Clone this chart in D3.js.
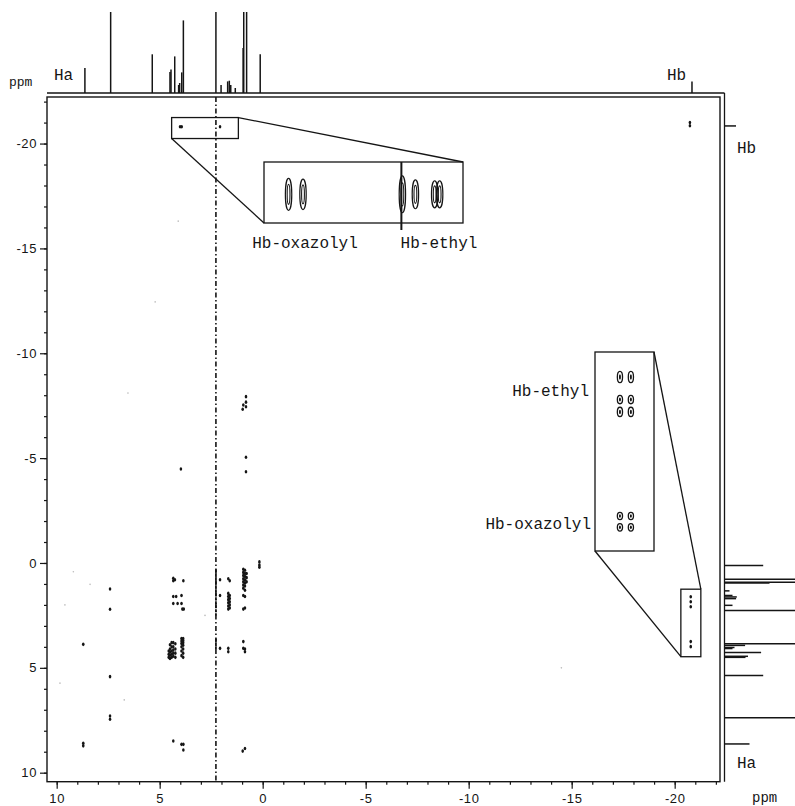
<!DOCTYPE html>
<html><head><meta charset="utf-8">
<script src="https://cdn.jsdelivr.net/npm/d3@7"></script>
<style>body{margin:0;background:#fff}svg{display:block}</style>
</head><body>
<svg id="c" width="795" height="806"></svg>
<script>
// ---------------- data ----------------
const axisTicks = [10, 5, 0, -5, -10, -15, -20];
// 1D proton spectrum (ppm, intensity)
const specPpm = [8.63, 7.38, 5.36, 4.50, 4.45, 4.27, 4.08, 4.03, 3.93, 3.85, 2.27, 2.02, 1.70, 1.62, 1.55, 1.33, 0.95, 0.92, 0.78, 0.12, -20.84];
const specInt = [25, 110, 38.7, 21, 23.5, 36.6, 8, 10, 20.6, 72.6, 120, 8, 11.6, 12.3, 8, 5, 45, 110, 110, 38.7, 11.5];
// t1-noise streak
const streakPpm = 2.27;
const streakDense = [[0.3, 2.5], [3.6, 4.1]];
// 2D cross peaks [F2, F1]
const crossPeaks = [
  [8.71, 3.88], [8.71, 8.6], [8.71, 8.72],
  [7.41, 1.24], [7.41, 2.21], [7.41, 5.42], [7.41, 7.3], [7.41, 7.45],
  [4.34, 0.73], [4.34, 0.85], [4.26, 0.8], [3.85, 0.85],
  [4.34, 1.6], [4.2, 1.6], [3.94, 1.55], [4.34, 1.93], [4.13, 1.93], [3.94, 1.93],
  [3.9, 2.2], [3.83, 2.2],
  [4.56, 4.2], [4.56, 4.35], [4.56, 4.5],
  [4.5, 3.9], [4.5, 4.1], [4.5, 4.25], [4.5, 4.4], [4.5, 4.55],
  [4.42, 3.8], [4.42, 4.0], [4.42, 4.2], [4.42, 4.35], [4.42, 4.5],
  [4.34, 3.8], [4.34, 4.0], [4.34, 4.15], [4.34, 4.3], [4.34, 4.45],
  [4.24, 3.85], [4.24, 4.1], [4.24, 4.3], [4.24, 4.5],
  [3.94, 3.6], [3.94, 3.72], [3.94, 3.84], [3.94, 4.0], [3.94, 4.2], [3.94, 4.42],
  [3.86, 3.6], [3.86, 3.7], [3.86, 3.8], [3.86, 3.92], [3.86, 4.1], [3.86, 4.3], [3.86, 4.5],
  [2.07, 0.8], [2.07, 1.55], [2.07, 4.07],
  [1.67, 0.75], [1.6, 0.85], [1.67, 1.45], [1.67, 1.6], [1.67, 1.75], [1.67, 1.9], [1.67, 2.05], [1.67, 2.2],
  [1.6, 1.55], [1.6, 1.7], [1.6, 1.85], [1.6, 2.0], [1.6, 2.15],
  [1.67, 4.07], [1.67, 4.23],
  [0.94, 0.3], [0.94, 0.45], [0.94, 0.6], [0.94, 0.75], [0.94, 0.9], [0.94, 1.05], [0.94, 1.2],
  [0.86, 0.35], [0.86, 0.5], [0.86, 0.65], [0.86, 0.8], [0.86, 0.95], [0.86, 1.1], [0.86, 1.3],
  [0.78, 0.5], [0.78, 0.7], [0.78, 0.9],
  [0.94, 1.55], [0.86, 1.6], [0.94, 2.2], [0.86, 2.15],
  [0.94, 3.75], [0.94, 4.07], [0.86, 4.1], [0.86, 4.23],
  [4.34, 8.49], [3.94, 8.65], [3.85, 8.65], [3.85, 8.92], [0.97, 8.97], [0.86, 8.85],
  [0.16, -0.05], [0.16, 0.1], [0.16, 0.2],
  [0.81, -7.93], [0.94, -7.53], [0.81, -7.67], [0.81, -7.45], [0.97, -7.33],
  [0.81, -5.04], [0.81, -4.35], [3.97, -4.48],
  [-20.74, -21.0], [-20.74, -20.85],
  [4.01, -20.8], [3.93, -20.8], [2.07, -20.8],
  [-20.78, 1.61], [-20.78, 1.85], [-20.78, 2.09], [-20.78, 3.75], [-20.78, 3.99]
];
const noisePeaks = [[9.19, 0.42], [8.38, 1.02], [9.6, 2.0], [9.84, 5.73], [6.72, 6.53], [2.8, 2.5], [5.22, -12.45], [6.54, -8.1], [4.1, -16.3], [-14.5, 5.0]];
// zoom windows (ppm)
const topZoomF2 = [4.42, 1.18], topZoomF1 = [-21.24, -20.24];
const rightZoomF2 = [-20.3, -21.27], rightZoomF1 = [1.25, 4.47];
// Hb row peaks (top inset) and Hb column peaks (right inset)
const hbRowF2 = [4.02, 3.785, 2.167, 1.955, 1.641, 1.56];
const hbRowAmp = [1.0, 0.95, 1.15, 0.9, 0.85, 0.85];
const hbRowF1 = -20.71;
const hbColF1 = [1.654, 2.019, 2.219, 3.903, 4.087];
const hbColAmp = [1.35, 1.0, 1.1, 0.85, 0.9];
const hbColF2 = [-20.71, -20.89];
const insetLabels = ["Hb-oxazolyl", "Hb-ethyl"];

// ---------------- layout ----------------
const svg = d3.select('#c');
const ink = '#151515';
const mono = "'Liberation Mono','DejaVu Sans Mono',monospace";
const sans = "'Liberation Sans',Arial,sans-serif";
const x = d3.scaleLinear().domain([10.47, -22.2]).range([47, 720]);
const y = d3.scaleLinear().domain([-22.22, 10.43]).range([97, 781.7]);
const topBase = 93, topClip = 12, rightBase = 724.5;
const hScale = d3.scaleLinear().domain([0, 100]).range([0, 100]);

// frame
svg.append('rect').attr('x', 47).attr('y', 97).attr('width', 673).attr('height', 684.7)
  .attr('fill', 'none').attr('stroke', ink).attr('stroke-width', 1.4);

// axes
function styleAxis(g) {
  g.select('.domain').remove();
  g.selectAll('line').attr('stroke', ink).attr('stroke-width', 1.2);
  g.selectAll('text').attr('font-family', sans).attr('font-size', 13).attr('fill', ink).attr('letter-spacing', 0.6);
}
const fmt = d => (d < 0 ? '-' : '') + Math.abs(d);
svg.append('g').attr('transform', 'translate(0,781.7)')
  .call(d3.axisBottom(x).tickValues(x.ticks(32)).tickSize(3).tickFormat('')).call(styleAxis);
svg.append('g').attr('transform', 'translate(0,781.7)')
  .call(d3.axisBottom(x).tickValues(axisTicks).tickSize(7).tickPadding(5).tickFormat(fmt)).call(styleAxis);
svg.append('g').attr('transform', 'translate(47,0)')
  .call(d3.axisLeft(y).tickValues(y.ticks(32)).tickSize(3).tickFormat('')).call(styleAxis);
svg.append('g').attr('transform', 'translate(47,0)')
  .call(d3.axisLeft(y).tickValues(axisTicks).tickSize(7).tickPadding(3).tickFormat(fmt)).call(styleAxis);

// 1D spectra
svg.append('line').attr('x1', 47).attr('x2', rightBase).attr('y1', topBase).attr('y2', topBase)
  .attr('stroke', ink).attr('stroke-width', 1.3);
svg.append('line').attr('x1', rightBase).attr('x2', rightBase).attr('y1', topBase).attr('y2', 781.7)
  .attr('stroke', ink).attr('stroke-width', 1.3);
const spec = specPpm.map((p, i) => ({p, h: specInt[i]}));
svg.append('g').selectAll('line').data(spec).join('line')
  .attr('x1', d => x(d.p)).attr('x2', d => x(d.p))
  .attr('y1', topBase).attr('y2', d => Math.max(topClip, topBase - hScale(d.h)))
  .attr('stroke', ink).attr('stroke-width', 1.5);
svg.append('g').selectAll('line').data(spec).join('line')
  .attr('y1', d => y(d.p)).attr('y2', d => y(d.p))
  .attr('x1', rightBase).attr('x2', d => rightBase + hScale(d.h))
  .attr('stroke', ink).attr('stroke-width', 1.5);

// streak
svg.append('line').attr('x1', x(streakPpm)).attr('x2', x(streakPpm)).attr('y1', 97).attr('y2', 781.7)
  .attr('stroke', ink).attr('stroke-width', 1.6).attr('stroke-dasharray', '5,2.5,1.5,2.5');
svg.append('g').selectAll('line').data(streakDense).join('line')
  .attr('x1', x(streakPpm)).attr('x2', x(streakPpm)).attr('y1', d => y(d[0])).attr('y2', d => y(d[1]))
  .attr('stroke', ink).attr('stroke-width', 1.8).attr('stroke-dasharray', '3,1');

// cross peaks
svg.append('g').selectAll('ellipse').data(crossPeaks).join('ellipse')
  .attr('cx', d => x(d[0])).attr('cy', d => y(d[1])).attr('rx', 1.3).attr('ry', 1.8).attr('fill', ink);
svg.append('g').selectAll('circle').data(noisePeaks).join('circle')
  .attr('cx', d => x(d[0])).attr('cy', d => y(d[1])).attr('r', 0.8).attr('fill', '#bbb');

// ---- top inset ----
const tb = {x0: 264, x1: 463, y0: 162, y1: 223};
const tix = d3.scaleLinear().domain(topZoomF2).range([tb.x0, tb.x1]);
const tiy = d3.scaleLinear().domain(topZoomF1).range([tb.y0, tb.y1]);
const lineAttr = s => s.attr('stroke', ink).attr('stroke-width', 1.3);
svg.append('rect').attr('x', x(topZoomF2[0])).attr('y', y(topZoomF1[0]))
  .attr('width', x(topZoomF2[1]) - x(topZoomF2[0])).attr('height', y(topZoomF1[1]) - y(topZoomF1[0]))
  .attr('fill', 'none').call(lineAttr);
svg.append('rect').attr('x', tb.x0).attr('y', tb.y0).attr('width', tb.x1 - tb.x0).attr('height', tb.y1 - tb.y0)
  .attr('fill', 'none').call(lineAttr);
svg.append('line').attr('x1', x(topZoomF2[1])).attr('y1', y(topZoomF1[0])).attr('x2', tb.x1).attr('y2', tb.y0).call(lineAttr);
svg.append('line').attr('x1', x(topZoomF2[0])).attr('y1', y(topZoomF1[1])).attr('x2', tb.x0).attr('y2', tb.y1).call(lineAttr);
// streak inside inset (through the 2.17 peak)
svg.append('line').attr('x1', tix(hbRowF2[2]) - 1).attr('x2', tix(hbRowF2[2]) - 1).attr('y1', tb.y0).attr('y2', tb.y1 + 7)
  .attr('stroke', ink).attr('stroke-width', 2);
const rowPk = hbRowF2.map((p, i) => ({p, a: hbRowAmp[i]}));
const tg = svg.append('g');
tg.selectAll('.o').data(rowPk).join('ellipse').attr('cx', d => tix(d.p)).attr('cy', tiy(hbRowF1))
  .attr('rx', 3.2).attr('ry', d => 16 * d.a).attr('fill', 'none').attr('stroke', ink).attr('stroke-width', 1.2);
tg.selectAll('.i').data(rowPk).join('ellipse').attr('cx', d => tix(d.p)).attr('cy', tiy(hbRowF1))
  .attr('rx', 1.4).attr('ry', d => 10 * d.a).attr('fill', 'none').attr('stroke', ink).attr('stroke-width', 1.1);
svg.append('text').attr('x', 305).attr('y', 248).attr('text-anchor', 'middle').text(insetLabels[0]);
svg.append('text').attr('x', 439).attr('y', 248).attr('text-anchor', 'middle').text(insetLabels[1]);

// ---- right inset ----
const rb = {x0: 595, x1: 654, y0: 352, y1: 551};
const rix = d3.scaleLinear().domain(rightZoomF2).range([rb.x0, rb.x1]);
const riy = d3.scaleLinear().domain(rightZoomF1).range([rb.y0, rb.y1]);
svg.append('rect').attr('x', x(rightZoomF2[0])).attr('y', y(rightZoomF1[0]))
  .attr('width', x(rightZoomF2[1]) - x(rightZoomF2[0])).attr('height', y(rightZoomF1[1]) - y(rightZoomF1[0]))
  .attr('fill', 'none').call(lineAttr);
svg.append('rect').attr('x', rb.x0).attr('y', rb.y0).attr('width', rb.x1 - rb.x0).attr('height', rb.y1 - rb.y0)
  .attr('fill', 'none').call(lineAttr);
svg.append('line').attr('x1', rb.x1).attr('y1', rb.y0).attr('x2', x(rightZoomF2[1])).attr('y2', y(rightZoomF1[0])).call(lineAttr);
svg.append('line').attr('x1', rb.x0).attr('y1', rb.y1).attr('x2', x(rightZoomF2[0])).attr('y2', y(rightZoomF1[1])).call(lineAttr);
const colPk = [];
hbColF1.forEach((f1, i) => hbColF2.forEach(f2 => colPk.push({f1, f2, a: hbColAmp[i]})));
const rg = svg.append('g');
rg.selectAll('.o').data(colPk).join('ellipse').attr('cx', d => rix(d.f2)).attr('cy', d => riy(d.f1))
  .attr('rx', 2.6).attr('ry', d => 4.2 * d.a).attr('fill', 'none').attr('stroke', ink).attr('stroke-width', 1.3);
rg.selectAll('.i').data(colPk).join('ellipse').attr('cx', d => rix(d.f2)).attr('cy', d => riy(d.f1))
  .attr('rx', 1).attr('ry', d => 2 * d.a).attr('fill', ink);
svg.append('text').attr('x', 589).attr('y', 396).attr('text-anchor', 'end').text(insetLabels[1]);
svg.append('text').attr('x', 591).attr('y', 529).attr('text-anchor', 'end').text(insetLabels[0]);

// ---- labels ----
svg.append('text').attr('x', 54).attr('y', 80).text('Ha');
svg.append('text').attr('x', 667).attr('y', 80).text('Hb');
svg.append('text').attr('x', 737).attr('y', 153).text('Hb');
svg.append('text').attr('x', 737).attr('y', 768).text('Ha');
svg.append('text').attr('x', 9).attr('y', 86).attr('font-size', 13).text('ppm');
svg.append('text').attr('x', 752).attr('y', 802).attr('font-size', 14).text('ppm');
svg.selectAll('svg > text').attr('font-family', mono).attr('fill', ink)
  .each(function() { if (!this.getAttribute('font-size')) this.setAttribute('font-size', 16); });
</script>
</body></html>
